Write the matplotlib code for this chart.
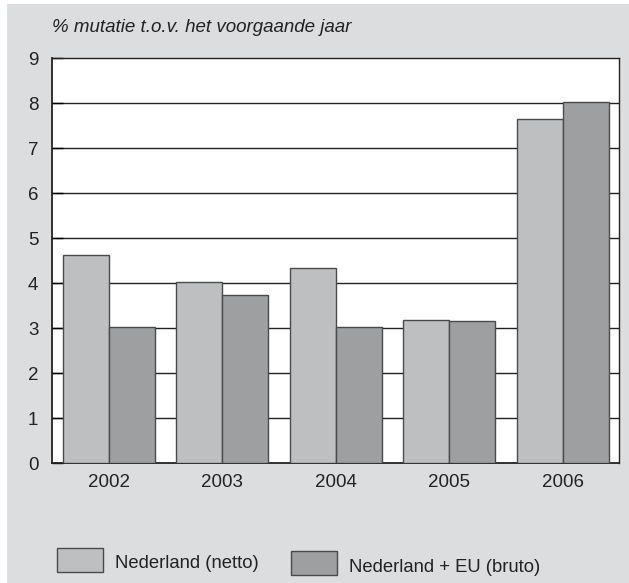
import numpy as np
import matplotlib.pyplot as plt
from matplotlib.patches import Rectangle

plt.rcParams['font.family'] = ['Liberation Sans', 'DejaVu Sans']

years = ['2002', '2003', '2004', '2005', '2006']
netto = [4.63, 4.03, 4.33, 3.18, 7.65]
bruto = [3.02, 3.75, 3.03, 3.17, 8.02]
labels = ['Nederland (netto)', 'Nederland + EU (bruto)']
subtitle = '% mutatie t.o.v. het voorgaande jaar'

light = '#bebfc0'
dark = '#9e9fa1'
panel = '#dcdddf'
edge = '#4a4a4a'

W, H = 629, 583
fig = plt.figure(figsize=(W / 100, H / 100), dpi=100)
fig.patch.set_facecolor('white')

# grey panel behind everything
fig.patches.append(Rectangle((7 / W, 0), 1 - 7 / W, 1 - 4 / H, transform=fig.transFigure,
                             facecolor=panel, edgecolor='none', zorder=-5))

ax = fig.add_axes([52.3 / W, 1 - 463.3 / H, 567 / W, 405 / H])
ax.set_zorder(2)
ax.set_facecolor('white')

x = np.arange(len(years))
bw = 0.405
ax.bar(x - bw / 2, netto, bw, color=light, edgecolor=edge, linewidth=1, zorder=3)
ax.bar(x + bw / 2, bruto, bw, color=dark, edgecolor=edge, linewidth=1, zorder=3)

ax.set_xlim(-0.5, len(years) - 0.5)
ax.set_ylim(0, 9)
ax.set_yticks(range(0, 10))
for v in range(1, 9):
    ax.axhline(v, color='#222222', linewidth=1, zorder=1)

ax.set_xticks(x)
ax.set_xticklabels(years, fontsize=13.5, color='#222222')
ax.tick_params(axis='x', length=0, pad=8)
ax.tick_params(axis='y', direction='in', length=8, width=1, labelsize=13.5,
               labelcolor='#222222', pad=10)
for s in ax.spines.values():
    s.set_color('#222222')
    s.set_linewidth(1)
ax.spines['left'].set_linewidth(1.3)
ax.spines['bottom'].set_linewidth(1.3)

fig.text(52 / W, 1 - 28 / H, subtitle, fontsize=13.5, style='italic',
         color='#222222', va='center', ha='left')

# legend drawn by hand at the bottom of the panel
legend_items = [(labels[0], light, 57, 548), (labels[1], dark, 291, 551)]
for text, col, lx, ly in legend_items:
    fig.patches.append(Rectangle((lx / W, 1 - (ly + 23.5) / H), 46 / W, 23.5 / H,
                                 transform=fig.transFigure, facecolor=col,
                                 edgecolor=edge, linewidth=1, zorder=1))
    fig.text((lx + 58) / W, 1 - (ly + 16) / H, text, fontsize=13.3,
             color='#222222', va='center', ha='left')

fig.savefig('out.png', dpi=100)
